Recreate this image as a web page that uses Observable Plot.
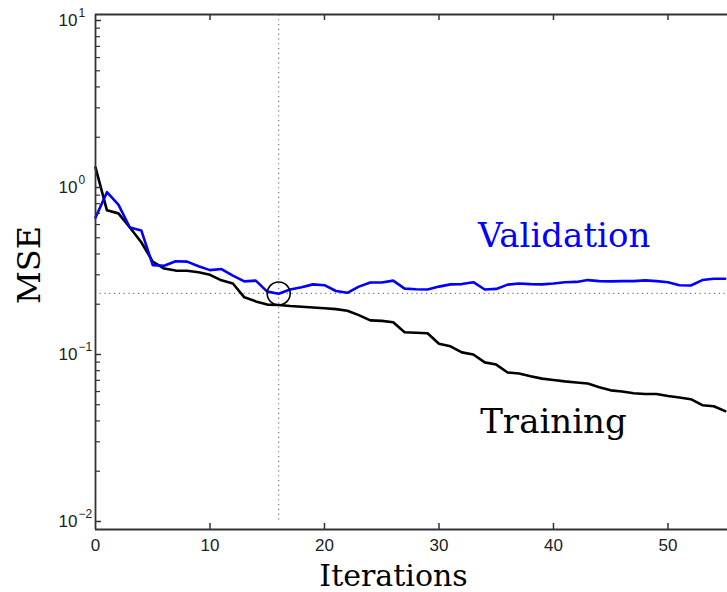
<!DOCTYPE html>
<html>
<head>
<meta charset="utf-8">
<script src="https://cdn.jsdelivr.net/npm/d3@7"></script>
<script src="https://cdn.jsdelivr.net/npm/@observablehq/plot@0.6"></script>
<style>
  html, body { margin: 0; padding: 0; background: #fff; }
</style>
</head>
<body>
<div id="chart"></div>
<script>
const iterations = d3.range(0, 56);
const training = [1.32, 0.73, 0.70, 0.576, 0.47, 0.36, 0.327, 0.318, 0.317, 0.311,
  0.30, 0.278, 0.266, 0.22, 0.208, 0.199, 0.198, 0.195, 0.193, 0.191,
  0.189, 0.187, 0.183, 0.172, 0.16, 0.159, 0.156, 0.136, 0.135, 0.134,
  0.116, 0.112, 0.103, 0.1, 0.0897, 0.087, 0.078, 0.077, 0.074, 0.0717,
  0.0703, 0.069, 0.068, 0.067, 0.0637, 0.061, 0.06, 0.0586, 0.058, 0.058,
  0.0564, 0.0553, 0.054, 0.0497, 0.049, 0.0458];
const validation = [0.66, 0.937, 0.79, 0.576, 0.553, 0.343, 0.34, 0.362, 0.36, 0.338,
  0.32, 0.325, 0.297, 0.274, 0.277, 0.238, 0.231, 0.245, 0.253, 0.263,
  0.26, 0.24, 0.234, 0.255, 0.27, 0.27, 0.277, 0.248, 0.246, 0.245,
  0.255, 0.263, 0.264, 0.271, 0.245, 0.247, 0.262, 0.266, 0.264, 0.263,
  0.266, 0.271, 0.272, 0.279, 0.275, 0.274, 0.275, 0.275, 0.278, 0.275,
  0.271, 0.26, 0.259, 0.279, 0.284, 0.284];
const bestIteration = 16;
const bestValidation = 0.232;
const xTicks = [0, 10, 20, 30, 40, 50];
const xTicksInner = [10, 20, 30, 40, 50];
const yDecades = [0.01, 0.1, 1, 10];
const yExponents = ["\u22122", "\u22121", "0", "1"];
const yMinor = [];
for (const d of [0.01, 0.1, 1]) for (let k = 2; k <= 9; k++) yMinor.push(+(d * k).toPrecision(3));
const xDomain = [0, 55.2];
const yDomain = [Math.pow(10, -2.048), Math.pow(10, 1.036)];

const W = 727, H = 592, mL = 95, mR = 0, mT = 14, mB = 63;
const plotW = W - mL - mR, plotH = H - mT - mB;

const trainData = iterations.map((x, i) => ({x, y: training[i]}));
const valData = iterations.map((x, i) => ({x, y: validation[i]}));
const axisColor = "#333";
const serif = "DejaVu Serif";
const sans = "Liberation Sans, Arial, sans-serif";

const chart = Plot.plot({
  width: W, height: H,
  marginLeft: mL, marginRight: mR, marginTop: mT, marginBottom: mB,
  x: {domain: xDomain, axis: null},
  y: {type: "log", domain: yDomain, axis: null},
  style: {background: "#fff", overflow: "visible"},
  marks: [
    // dotted guide lines
    Plot.ruleY([bestValidation], {x1: 0.4, x2: xDomain[1], stroke: "#777", strokeWidth: 1.2, strokeDasharray: "1.2,3.6"}),
    Plot.ruleX([bestIteration], {y1: 0.0102, y2: yDomain[1], stroke: "#777", strokeWidth: 1.2, strokeDasharray: "1.2,3.6"}),
    // curves
    Plot.line(trainData, {x: "x", y: "y", stroke: "#000", strokeWidth: 2.6}),
    Plot.line(valData, {x: "x", y: "y", stroke: "#0000ff", strokeWidth: 2.6}),
    Plot.dot([{x: bestIteration, y: bestValidation}], {x: "x", y: "y", r: 11.5, stroke: "#000", strokeWidth: 1.6, fill: "none"}),
    // frame
    Plot.ruleX([0], {stroke: axisColor, strokeWidth: 1.8}),
    Plot.ruleY([yDomain[0]], {stroke: axisColor, strokeWidth: 1.8}),
    Plot.ruleY([yDomain[1]], {stroke: axisColor, strokeWidth: 1.8}),
    // inward ticks
    Plot.tickX(xTicksInner, {x: d => d, stroke: axisColor, strokeWidth: 1.5, insetTop: plotH - 6}),
    Plot.tickX(xTicksInner, {x: d => d, stroke: axisColor, strokeWidth: 1.5, insetBottom: plotH - 6}),
    Plot.tickY(yDecades, {y: d => d, stroke: axisColor, strokeWidth: 1.5, insetRight: plotW - 6}),
    Plot.tickY(yMinor, {y: d => d, stroke: axisColor, strokeWidth: 1.2, insetRight: plotW - 5}),
    // tick labels
    Plot.text(xTicks, {x: d => d, frameAnchor: "bottom", dy: 16, text: d => String(d), lineAnchor: "middle", fontSize: 17, fontFamily: sans, fill: "#222"}),
    Plot.text(yDecades, {y: d => d, frameAnchor: "left", dx: -18, text: () => "10", textAnchor: "end", lineAnchor: "middle", fontSize: 17, fontFamily: sans, fill: "#222"}),
    Plot.text(yDecades, {y: d => d, frameAnchor: "left", dx: -17, dy: -7, text: (d, i) => yExponents[i], textAnchor: "start", lineAnchor: "middle", fontSize: 12, fontFamily: sans, fill: "#222"}),
    // series labels
    Plot.text(["Validation"], {x: 33.4, y: 0.509, text: d => d, textAnchor: "start", lineAnchor: "middle", fontSize: 34, fontFamily: serif, fill: "#0000ff"}),
    Plot.text(["Training"], {x: 33.6, y: 0.0395, text: d => d, textAnchor: "start", lineAnchor: "middle", fontSize: 34, fontFamily: serif, fill: "#000"}),
    // axis titles
    Plot.text(["Iterations"], {frameAnchor: "bottom", dx: -18, dy: 56, text: d => d, textAnchor: "middle", lineAnchor: "bottom", fontSize: 30, fontFamily: serif, fill: "#000"}),
    Plot.text(["MSE"], {frameAnchor: "left", dx: -66, dy: -7, rotate: -90, text: d => d, textAnchor: "middle", lineAnchor: "middle", fontSize: 32, fontFamily: serif, fill: "#000"})
  ]
});
document.getElementById("chart").appendChild(chart);
</script>
</body>
</html>
